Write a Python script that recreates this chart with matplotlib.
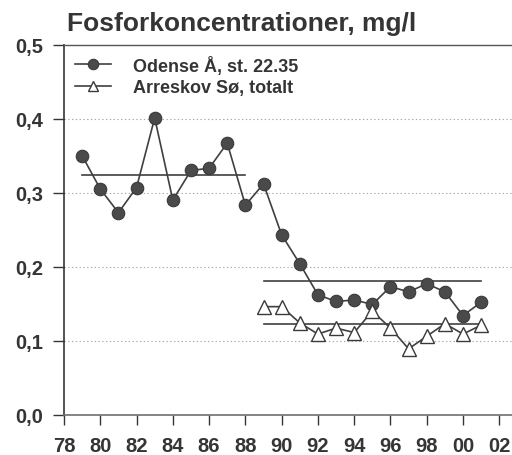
import matplotlib
matplotlib.use("Agg")
import matplotlib.pyplot as plt
from matplotlib.ticker import FixedLocator, FuncFormatter

# ---- data ----
odense_years = [1979, 1980, 1981, 1982, 1983, 1984, 1985, 1986, 1987, 1988,
                1989, 1990, 1991, 1992, 1993, 1994, 1995, 1996, 1997, 1998,
                1999, 2000, 2001]
odense_values = [0.350, 0.305, 0.273, 0.307, 0.401, 0.290, 0.330, 0.333, 0.367, 0.283,
                 0.312, 0.243, 0.204, 0.162, 0.153, 0.155, 0.149, 0.173, 0.166, 0.177,
                 0.166, 0.134, 0.152]
arreskov_years = [1989, 1990, 1991, 1992, 1993, 1994, 1995, 1996, 1997, 1998,
                  1999, 2000, 2001]
arreskov_values = [0.146, 0.146, 0.124, 0.109, 0.117, 0.111, 0.140, 0.117, 0.089, 0.106,
                   0.123, 0.109, 0.121]
# period mean lines: (start year, end year, level)
mean_lines = [(1979, 1988, 0.324), (1989, 2001, 0.180), (1989, 2001, 0.122)]

x_ticks = list(range(1978, 2003, 2))
y_ticks = [0.0, 0.1, 0.2, 0.3, 0.4, 0.5]
title = "Fosforkoncentrationer, mg/l"
labels = ["Odense Å, st. 22.35", "Arreskov Sø, totalt"]

# ---- style ----
plt.rcParams['font.family'] = ['Liberation Sans', 'DejaVu Sans']
plt.rcParams['font.weight'] = 'bold'
dark = '#353535'
linec = '#404040'

fig = plt.figure(figsize=(5.12, 4.56), dpi=100)
ax = fig.add_axes([0.125, 0.0884, 0.875, 0.8114])

for y in y_ticks[1:-1]:
    ax.axhline(y, color='#a8a8a8', lw=0.8, ls=(0, (1.2, 2.2)), zorder=0)

for (x0, x1, lvl) in mean_lines:
    ax.plot([x0, x1], [lvl, lvl], color=linec, lw=1.2, zorder=2)

ax.plot(odense_years, odense_values, color=linec, lw=1.2, marker='o', ms=9,
        mfc='#4a4a4a', mec='#3a3a3a', mew=0.8, label=labels[0], zorder=3)
ax.plot(arreskov_years, arreskov_values, color=linec, lw=1.2, marker='^', ms=9.5,
        mfc='white', mec='#3a3a3a', mew=1.0, label=labels[1], zorder=3)

ax.set_xlim(1978, 2002.7)
ax.set_ylim(0, 0.5)
ax.xaxis.set_major_locator(FixedLocator(x_ticks))
ax.yaxis.set_major_locator(FixedLocator(y_ticks))
ax.xaxis.set_major_formatter(FuncFormatter(lambda v, p: f"{int(round(v)) % 100:02d}"))
ax.yaxis.set_major_formatter(FuncFormatter(lambda v, p: f"{v:.1f}".replace('.', ',')))

ax.spines['right'].set_visible(False)
ax.spines['top'].set_color('#555555')
ax.spines['top'].set_linestyle((0, (1.0, 1.0)))
ax.spines['top'].set_linewidth(1.0)
ax.spines['left'].set_color(dark)
ax.spines['left'].set_linewidth(1.2)
ax.spines['bottom'].set_color('#707070')
ax.spines['bottom'].set_linewidth(1.2)

ax.tick_params(axis='y', direction='out', length=8, width=1.0, color=dark,
               pad=7, labelsize=14.5, labelcolor=dark)
ax.tick_params(axis='x', direction='out', length=7.5, width=1.0, color=dark,
               pad=8, labelsize=14.5, labelcolor=dark)
for lab in ax.get_xticklabels() + ax.get_yticklabels():
    lab.set_fontweight('bold')

fig.text(0.131, 0.931, title, fontsize=19, fontweight='bold', color=dark,
         ha='left', va='baseline')

leg = ax.legend(loc='upper left', bbox_to_anchor=(0.1465, 0.876),
                bbox_transform=fig.transFigure, frameon=False,
                borderpad=0, borderaxespad=0, handlelength=2.0,
                handletextpad=1.2, labelspacing=0.25,
                prop={'size': 13, 'weight': 'bold'})
for t in leg.get_texts():
    t.set_color(dark)
for h in leg.get_lines():
    h.set_markersize(7.5)

fig.savefig('out.png', dpi=100)
